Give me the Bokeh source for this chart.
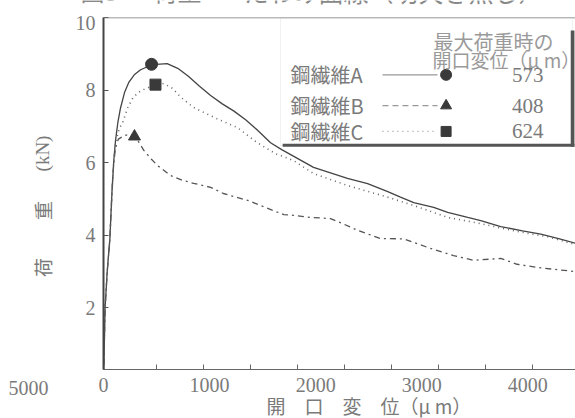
import math
from bokeh.plotting import figure
from bokeh.layouts import column, row
from bokeh.models import Range1d, FixedTicker, Label, BoxAnnotation, Span, Title
from bokeh.embed import file_html
from bokeh.resources import INLINE

# ---- data (x: 開口変位 μm, y: 荷重 kN) ----
a_x = [0, 15, 35, 60, 80, 97, 113, 135, 160, 200, 240, 290, 350, 420, 500, 600,
       700, 800, 900, 1010, 1120, 1230, 1340, 1450, 1575, 1680, 1790, 1900, 1980,
       2140, 2300, 2490, 2680, 2800, 2925, 3113, 3245, 3434, 3557, 3745, 3950,
       4123, 4300, 4450]
a_y = [0, 2.0, 3.0, 3.9, 5.2, 6.06, 6.6, 7.1, 7.5, 7.95, 8.22, 8.42, 8.56, 8.65,
       8.71, 8.73, 8.6, 8.38, 8.12, 7.85, 7.62, 7.42, 7.18, 6.9, 6.55, 6.36, 6.18,
       6.0, 5.87, 5.72, 5.57, 5.42, 5.2, 5.05, 4.9, 4.77, 4.63, 4.49, 4.4, 4.24,
       4.12, 4.03, 3.9, 3.78]

b_x = [0, 15, 35, 60, 80, 97, 113, 140, 200, 255, 300, 380, 450, 510, 630, 740,
       850, 1010, 1130, 1250, 1360, 1480, 1600, 1700, 1790, 1950, 2140, 2270, 2400,
       2610, 2830, 3060, 3300, 3490, 3745, 3900, 4094, 4250, 4450]
b_y = [0, 2.0, 3.0, 3.9, 5.2, 6.0, 6.4, 6.65, 6.75, 6.78, 6.72, 6.34, 6.1, 5.92,
       5.65, 5.52, 5.43, 5.32, 5.15, 5.05, 4.96, 4.82, 4.68, 4.57, 4.55, 4.49, 4.46,
       4.3, 4.13, 3.91, 3.9, 3.66, 3.44, 3.31, 3.36, 3.2, 3.11, 3.06, 3.0]

c_x = [0, 15, 35, 60, 80, 97, 113, 150, 180, 226, 280, 350, 450, 566, 650, 730,
       850, 1040, 1260, 1450, 1620, 1790, 1980, 2300, 2690, 2925, 3245, 3557, 3745,
       4000, 4200, 4450]
c_y = [0, 2.0, 3.0, 3.9, 5.2, 6.06, 6.55, 6.95, 7.1, 7.5, 7.8, 7.98, 8.1, 8.18,
       8.05, 7.8, 7.52, 7.25, 6.97, 6.55, 6.25, 6.06, 5.7, 5.37, 5.04, 4.82, 4.49,
       4.32, 4.2, 4.05, 3.95, 3.74]

peak_x = [453, 292, 490]
peak_y = [8.71, 6.72, 8.15]

legend_names = ["鋼繊維A", "鋼繊維B", "鋼繊維C"]
legend_values = ["573", "408", "624"]
legend_header = ["最大荷重時の", "開口変位（μ m）"]

x_ticks = [0, 1000, 2000, 3000, 4000]
x_tick_labels = ["0", "1000", "2000", "3000", "4000"]
x_minor_ticks = [500, 943, 1386, 1829, 2272, 2715, 3158, 3601, 4044]
y_ticks = [2, 4, 6, 8, 10]

title_parts = ["図5", "荷重－", "たわみ曲線（切欠き無し）"]
x_label = "開　口　変　位（μ m）"
y_label_parts = ["荷", "重", "(kN)"]
stray_label = "5000"

# ---- styling ----
INK = "#444444"
TXT = "#7a7a7a"
CJK = "Noto Sans CJK JP"
SERIF = "Liberation Serif"


def no_align(f):
    if "frame_align" in f.properties():
        f.frame_align = False
    return f


def strip(w, h, xr, yr):
    f = figure(width=w, height=h, x_range=Range1d(*xr), y_range=Range1d(*yr),
               output_backend="svg", toolbar_location=None,
               x_axis_type=None, y_axis_type=None,
               min_border_left=0, min_border_right=0, min_border_top=0, min_border_bottom=0)
    f.outline_line_color = None
    f.grid.visible = False
    f.background_fill_color = "white"
    f.border_fill_color = "white"
    return no_align(f)


# strips hold texts lying outside the chart frame (ranges = page pixels, y flipped)
title_fig = strip(575, 15, (0, 575), (403, 418))
left_fig = strip(60, 403, (0, 60), (0, 403))

p = figure(width=515, height=403, x_range=Range1d(0, 4450), y_range=Range1d(0.3, 10),
           output_backend="svg", toolbar_location=None,
           min_border_left=43, min_border_right=0, min_border_top=2, min_border_bottom=49)
no_align(p)
p.background_fill_color = "white"
p.border_fill_color = "white"
p.outline_line_color = None
p.grid.visible = False

p.xaxis.ticker = FixedTicker(ticks=x_ticks, minor_ticks=x_minor_ticks)
p.xaxis.major_label_overrides = {t: l for t, l in zip(x_ticks, x_tick_labels)}
p.xaxis.major_tick_line_color = None
p.xaxis.major_tick_in = 0
p.xaxis.major_tick_out = 0
p.xaxis.minor_tick_in = 5
p.xaxis.minor_tick_out = 0
p.xaxis.minor_tick_line_color = "#666666"
p.xaxis.axis_line_color = "#666666"
p.xaxis.axis_line_width = 1.2
p.xaxis.major_label_standoff = 8

p.yaxis.ticker = FixedTicker(ticks=y_ticks)
p.yaxis.major_tick_in = 5
p.yaxis.major_tick_out = 0
p.yaxis.major_tick_line_color = "#555555"
p.yaxis.minor_tick_line_color = None
p.yaxis.minor_tick_out = 0
p.yaxis.axis_line_color = "#444444"
p.yaxis.axis_line_width = 2
p.yaxis.major_label_standoff = 8

for ax in (p.xaxis, p.yaxis):
    ax.major_label_text_font = SERIF
    ax.major_label_text_font_size = "20px"
    ax.major_label_text_color = TXT

# x axis title as a thin title panel under the axis
p.add_layout(Title(text=x_label, align="left", offset=163, vertical_align="middle",
                   standoff=-8, text_font=CJK, text_font_size="19px",
                   text_font_style="normal", text_color=TXT), "below")

p.add_layout(Span(location=10, dimension="width", line_color="#777777", line_width=1.5))

# ---- curves ----
p.line(a_x, a_y, line_color=INK, line_width=1.3)
p.line(b_x, b_y, line_color="#555555", line_width=1.3, line_dash="6 4 2 4")
p.line(c_x, c_y, line_color="#666666", line_width=1.6, line_dash="1 4")

markers = ["circle", "triangle", "square"]
sizes = [12, 12, 11]
for i in range(3):
    p.scatter([peak_x[i]], [peak_y[i]], marker=markers[i], size=sizes[i],
              fill_color="#3a3a3a", line_color="#3a3a3a")

# ---- legend (drawn by hand: label, key line, marker, value) ----
box_l, box_r, box_b = 1669, 4422, 6.47
p.add_layout(BoxAnnotation(left=box_l, right=box_r, top=10, bottom=box_b,
                           fill_color="white", fill_alpha=1.0,
                           line_color="#cccccc", line_width=1, level="underlay"))
p.add_layout(BoxAnnotation(left=box_l + 20, right=4440, top=box_b + 0.05, bottom=box_b - 0.03,
                           fill_color="#555555", fill_alpha=1.0, line_color=None))
p.add_layout(BoxAnnotation(left=4405, right=4440, top=9.64, bottom=box_b - 0.03,
                           fill_color="#555555", fill_alpha=1.0, line_color=None))

p.add_layout(Label(x=3111, y=9.34, text=legend_header[0], text_font=CJK,
                   text_font_size="20px", text_color="#9a9a9a", text_baseline="middle"))
p.add_layout(Label(x=3102, y=8.84, text=legend_header[1], text_font=CJK,
                   text_font_size="19px", text_color="#9a9a9a", text_baseline="middle"))

row_y = [8.42, 7.57, 6.86]
key_dash = ["solid", "6 4", "1 4"]
for i in range(3):
    yy = row_y[i]
    p.add_layout(Label(x=1763, y=yy, text=legend_names[i], text_font=CJK,
                       text_font_size="20px", text_color=TXT, text_baseline="middle"))
    p.line([2630, 3149], [yy, yy], line_color="#999999", line_width=1.2, line_dash=key_dash[i])
    p.scatter([3230], [yy], marker=markers[i], size=sizes[i] - 1,
              fill_color="#3a3a3a", line_color="#3a3a3a")
    p.add_layout(Label(x=4148, y=yy, text=legend_values[i], text_font=SERIF,
                       text_font_size="21px", text_color=TXT, text_align="right",
                       text_baseline="middle"))

# ---- texts outside the frame ----
title_x = [80, 153, 243]
title_size = ["24px", "24px", "25px"]
for tx, tt, ts in zip(title_x, title_parts, title_size):
    title_fig.add_layout(Label(x=tx, y=428, text=tt, text_font=CJK, text_font_size=ts,
                               text_color="#888888", text_baseline="middle"))
# left strip: data y = 418 - page y
y_label_pos = [151, 208, 265]
for yy, tt in zip(y_label_pos, y_label_parts):
    left_fig.add_layout(Label(x=42, y=yy, text=tt,
                              text_font=(SERIF if tt.startswith("(") else CJK),
                              text_font_size="19px", text_color=TXT, text_align="center",
                              text_baseline="middle", angle=math.pi / 2))
left_fig.add_layout(Label(x=28, y=31, text=stray_label, text_font=SERIF,
                          text_font_size="20px", text_color=TXT, text_align="center",
                          text_baseline="middle"))

layout = column(title_fig, row(left_fig, p, spacing=0), spacing=0)

open("out.html", "w").write(file_html(layout, INLINE))
